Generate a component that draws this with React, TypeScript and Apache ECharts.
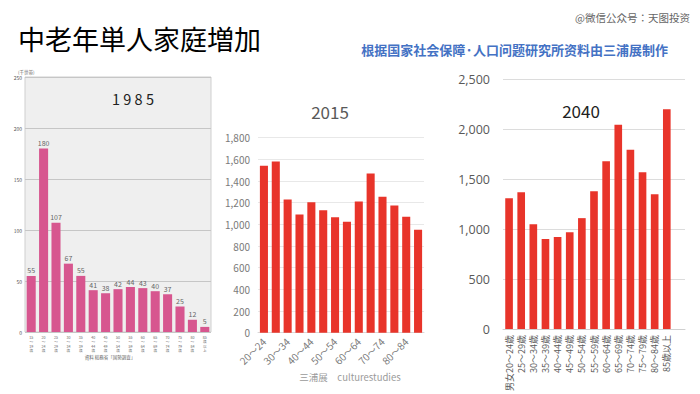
import React, { useEffect, useRef } from "react";
import * as echarts from "echarts";

const ages1985 = ["15～19歳", "20～24歳", "25～29歳", "30～34歳", "35～39歳", "40～44歳", "45～49歳", "50～54歳", "55～59歳", "60～64歳", "65～69歳", "70～74歳", "75～79歳", "80～84歳", "85歳以上"];
const values1985 = [55, 180, 107, 67, 55, 41, 38, 42, 44, 43, 40, 37, 25, 12, 5];

const ages2015 = ["20～24", "25～29", "30～34", "35～39", "40～44", "45～49", "50～54", "55～59", "60～64", "65～69", "70～74", "75～79", "80～84", "85～"];
const values2015 = [1540, 1580, 1230, 1090, 1205, 1130, 1065, 1025, 1210, 1470, 1255, 1175, 1070, 950];

const ages2040 = ["男女20～24歳", "25～29歳", "30～34歳", "35～39歳", "40～44歳", "45～49歳", "50～54歳", "55～59歳", "60～64歳", "65～69歳", "70～74歳", "75～79歳", "80～84歳", "85歳以上"];
const values2040 = [1310, 1370, 1050, 900, 920, 970, 1110, 1380, 1680, 2045, 1795, 1570, 1350, 2200];

const FONT = "'Noto Sans CJK JP', 'Noto Sans', sans-serif";

export default function App() {
  const ref = useRef<HTMLDivElement>(null);
  useEffect(() => {
    if (!ref.current) return;
    const chart = echarts.init(ref.current, null, { renderer: "svg" });
    const option: any = {
      animation: false,
      backgroundColor: "#ffffff",
      textStyle: { fontFamily: FONT },
      grid: [
        { left: 25, top: 77, width: 186, height: 255, show: true, backgroundColor: "#efefef", borderColor: "#cfcfcf", borderWidth: 1 },
        { left: 258, top: 137.7, width: 166, height: 195 },
        { left: 503, top: 79.3, width: 182, height: 254 },
      ],
      xAxis: [
        {
          type: "category", gridIndex: 0, data: ages1985,
          axisLine: { show: false }, axisTick: { show: false },
          axisLabel: {
            interval: 0, fontSize: 3.6, lineHeight: 4.4, color: "#666", margin: 3,
            formatter: (v: string) => (v.match(/\d+|./g) || []).join("\n"),
          },
        },
        {
          type: "category", gridIndex: 1, data: ages2015,
          axisLine: { lineStyle: { color: "#d9d9d9" } }, axisTick: { show: false },
          axisLabel: { interval: 1, rotate: 45, fontSize: 10, color: "#7a7a7a", margin: 7 },
        },
        {
          type: "category", gridIndex: 2, data: ages2040, max: ages2040.length,
          axisLine: { lineStyle: { color: "#d0d0d0" } }, axisTick: { show: false },
          axisLabel: {
            interval: 0, rotate: 90, fontSize: 9, color: "#595959", margin: 6,
            formatter: (v: any) => (ages2040.indexOf(v) >= 0 ? v : ""),
          },
        },
      ],
      yAxis: [
        {
          type: "value", gridIndex: 0, min: 0, max: 250, interval: 50,
          axisLine: { show: false }, axisTick: { show: false },
          splitLine: { lineStyle: { color: "#c6c6c6", width: 1 } },
          axisLabel: { fontSize: 5, color: "#555", margin: 3 },
        },
        {
          type: "value", gridIndex: 1, min: 0, max: 1800, interval: 200,
          axisLine: { show: false }, axisTick: { show: false },
          splitLine: { lineStyle: { color: "#e8e8e8" } },
          axisLabel: { fontSize: 10, color: "#7a7a7a", margin: 8, formatter: (v: number) => v.toLocaleString("en-US") },
        },
        {
          type: "value", gridIndex: 2, min: 0, max: 2500, interval: 500,
          axisLine: { show: false }, axisTick: { show: false },
          splitLine: { lineStyle: { color: "#dcdcdc" } },
          axisLabel: { fontSize: 12.5, color: "#595959", margin: 13, fontFamily: "'Open Sans', sans-serif", formatter: (v: number) => v.toLocaleString("en-US") },
        },
      ],
      series: [
        {
          type: "bar", xAxisIndex: 0, yAxisIndex: 0, data: values1985,
          barCategoryGap: "27%", itemStyle: { color: "#d7568f" },
          label: { show: true, position: "top", fontSize: 7, color: "#666", distance: 2 },
        },
        {
          type: "bar", xAxisIndex: 1, yAxisIndex: 1, data: values2015,
          barCategoryGap: "32%", itemStyle: { color: "#e8342a" },
        },
        {
          type: "bar", xAxisIndex: 2, yAxisIndex: 2, data: values2040,
          barCategoryGap: "37%", itemStyle: { color: "#e8342a" },
        },
      ],
      graphic: [
        { type: "text", x: 18, y: 38, style: { text: "中老年単人家庭増加", fontSize: 27, fontFamily: FONT, fill: "#000", align: "left", verticalAlign: "middle" } },
        { type: "text", x: 690, y: 17, style: { text: "@微信公众号：天图投资", fontSize: 10.5, fontFamily: FONT, fill: "#666", align: "right", verticalAlign: "middle" } },
        { type: "text", x: 668, y: 49.5, style: { text: "根据国家社会保障·人口问题研究所资料由三浦展制作", fontSize: 13, fontWeight: "bold", fontFamily: FONT, fill: "#4472c4", align: "right", verticalAlign: "middle" } },
        { type: "text", x: 18, y: 72, style: { text: "(千世帯)", fontSize: 4.5, fontFamily: FONT, fill: "#666", align: "left", verticalAlign: "middle" } },
        { type: "text", x: 133, y: 98.5, style: { text: "1 9 8 5", fontSize: 14.5, fontFamily: FONT, fill: "#222", align: "center", verticalAlign: "middle" } },
        { type: "text", x: 110, y: 357, style: { text: "資料 総務省「国勢調査」", fontSize: 4.5, fontFamily: FONT, fill: "#666", align: "center", verticalAlign: "middle" } },
        { type: "text", x: 330, y: 111.5, style: { text: "2015", fontSize: 17, fontFamily: FONT, fill: "#595959", align: "center", verticalAlign: "middle" } },
        { type: "text", x: 350, y: 377, style: { text: "三浦展　culturestudies", fontSize: 9.5, fontFamily: FONT, fill: "#9a9a9a", align: "center", verticalAlign: "middle" } },
        { type: "text", x: 581, y: 110, style: { text: "2040", fontSize: 17, fontFamily: FONT, fill: "#222", align: "center", verticalAlign: "middle" } },
      ],
    };
    chart.setOption(option);
    return () => chart.dispose();
  }, []);
  return <div ref={ref} style={{ position: "absolute", left: 0, top: 0, width: 700, height: 394 }} />;
}
